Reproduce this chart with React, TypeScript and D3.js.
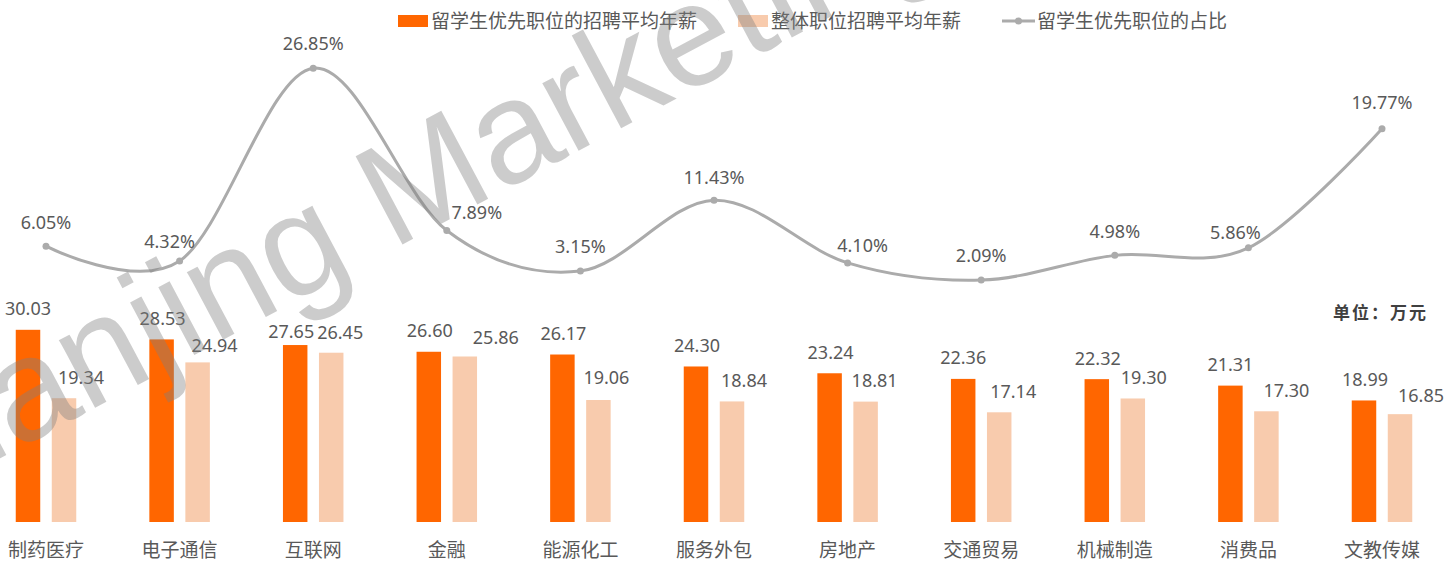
import * as d3 from "d3"

const categories = ["制药医疗", "电子通信", "互联网", "金融", "能源化工", "服务外包", "房地产", "交通贸易", "机械制造", "消费品", "文教传媒"]
const intlSalary = [30.03, 28.53, 27.65, 26.60, 26.17, 24.30, 23.24, 22.36, 22.32, 21.31, 18.99]
const overallSalary = [19.34, 24.94, 26.45, 25.86, 19.06, 18.84, 18.81, 17.14, 19.30, 17.30, 16.85]
const intlShare = [6.05, 4.32, 26.85, 7.89, 3.15, 11.43, 4.10, 2.09, 4.98, 5.86, 19.77]
const seriesNames = ["留学生优先职位的招聘平均年薪", "整体职位招聘平均年薪", "留学生优先职位的占比"]
const unitText = "单位：万元"
const watermarkWords = ["Jianjing", "Marketing"]

// hand placed label offsets (dx, dy), like the source chart
const shareNudge = [[0, 0], [-10, 5], [0, -1], [30, 6], [0, 0], [0, 1], [15, 7], [0, -1], [0, 0], [-13, 9], [0, -2]]
const intlNudge = [[0, 0], [1, 0], [-4, 8], [1, 0], [1, 0], [1, 0], [1, 0], [0, 0], [1, 0], [0, 0], [1, 0]]
const overallNudge = [[17, 0], [17, 4], [9, 1], [31, 2], [8, -1], [12, 0], [9, 0], [14, 0], [11, 0], [20, 0], [21, 2]]

const ORANGE = "#FF6600"
const PEACH = "#F8CBAD"
const GREY = "#ABABAB"
const TEXT = "#595959"
const FONT = "'Noto Sans', 'Noto Sans CJK SC', sans-serif"
const CJK = "'Noto Sans CJK SC', sans-serif"

export default function App() {
    const x = d3.scalePoint<string>().domain(categories).range([46, 1382])
    const inner = d3.scaleBand<number>().domain([0, 1]).range([-30.25, 30.25]).paddingInner(0.32)
    const yBar = d3.scaleLinear().domain([0, 30]).range([522, 330])
    const yLine = d3.scaleLinear().domain([0, 30]).range([298, 41.2])
    const fmt = d3.format(".2f")

    const line = d3.line<number>()
        .x((_, i) => x(categories[i])!)
        .y((d) => yLine(d))
        .curve(d3.curveCardinal.tension(0))

    const bars = [
        { values: intlSalary, color: ORANGE, nudge: intlNudge },
        { values: overallSalary, color: PEACH, nudge: overallNudge },
    ]

    return (
        <svg width={1447} height={562} style={{ position: "absolute", left: 0, top: 0 }} fontFamily={FONT}>
            <rect width={1447} height={562} fill="white" />

            {/* legend */}
            <g fontSize={19} fill={TEXT} fontFamily={CJK}>
                <rect x={398} y={15} width={30} height={12} fill={ORANGE} />
                <text x={431} y={28}>{seriesNames[0]}</text>
                <rect x={738} y={15} width={30} height={12} fill={PEACH} />
                <text x={771} y={28}>{seriesNames[1]}</text>
                <line x1={1002} x2={1035} y1={21} y2={21} stroke={GREY} strokeWidth={3} />
                <circle cx={1018.5} cy={21} r={3.5} fill={GREY} />
                <text x={1037} y={28}>{seriesNames[2]}</text>
            </g>

            <text x={1333} y={319} fontSize={17} fontWeight="bold" fill="#404040" letterSpacing={2}
                fontFamily={CJK}>{unitText}</text>

            {/* bars */}
            {bars.map((s, si) => (
                <g key={si}>
                    {s.values.map((v, i) => (
                        <rect key={i}
                            x={x(categories[i])! + inner(si)!}
                            y={yBar(v)}
                            width={inner.bandwidth()}
                            height={yBar(0) - yBar(v)}
                            fill={s.color} />
                    ))}
                    {s.values.map((v, i) => (
                        <text key={"t" + i}
                            x={x(categories[i])! + inner(si)! + inner.bandwidth() / 2 + s.nudge[i][0]}
                            y={yBar(v) - 21 + 6.4 + s.nudge[i][1]}
                            textAnchor="middle" fontSize={18} fill={TEXT}>{fmt(v)}</text>
                    ))}
                </g>
            ))}

            {/* share line */}
            <path d={line(intlShare)!} fill="none" stroke={GREY} strokeWidth={3} />
            {intlShare.map((v, i) => (
                <circle key={i} cx={x(categories[i])} cy={yLine(v)} r={3.5} fill={GREY} />
            ))}
            {intlShare.map((v, i) => (
                <text key={"p" + i}
                    x={x(categories[i])! + shareNudge[i][0]}
                    y={yLine(v) - 24 + 6.4 + shareNudge[i][1]}
                    textAnchor="middle" fontSize={18} fill={TEXT}>{fmt(v) + "%"}</text>
            ))}

            {/* category labels */}
            {categories.map((c) => (
                <text key={c} x={x(c)} y={557} textAnchor="middle" fontSize={19} fill={TEXT}
                    fontFamily={CJK}>{c}</text>
            ))}

            {/* watermark */}
            <g transform="translate(392,250) rotate(-28)" fontFamily="'Liberation Sans', Arial, sans-serif"
                fontSize={145} fill="#7f7f7f" fillOpacity={0.4}>
                <text x={-40} textAnchor="end">{watermarkWords[0]}</text>
                <text x={0}>{watermarkWords[1]}</text>
            </g>
        </svg>
    )
}
